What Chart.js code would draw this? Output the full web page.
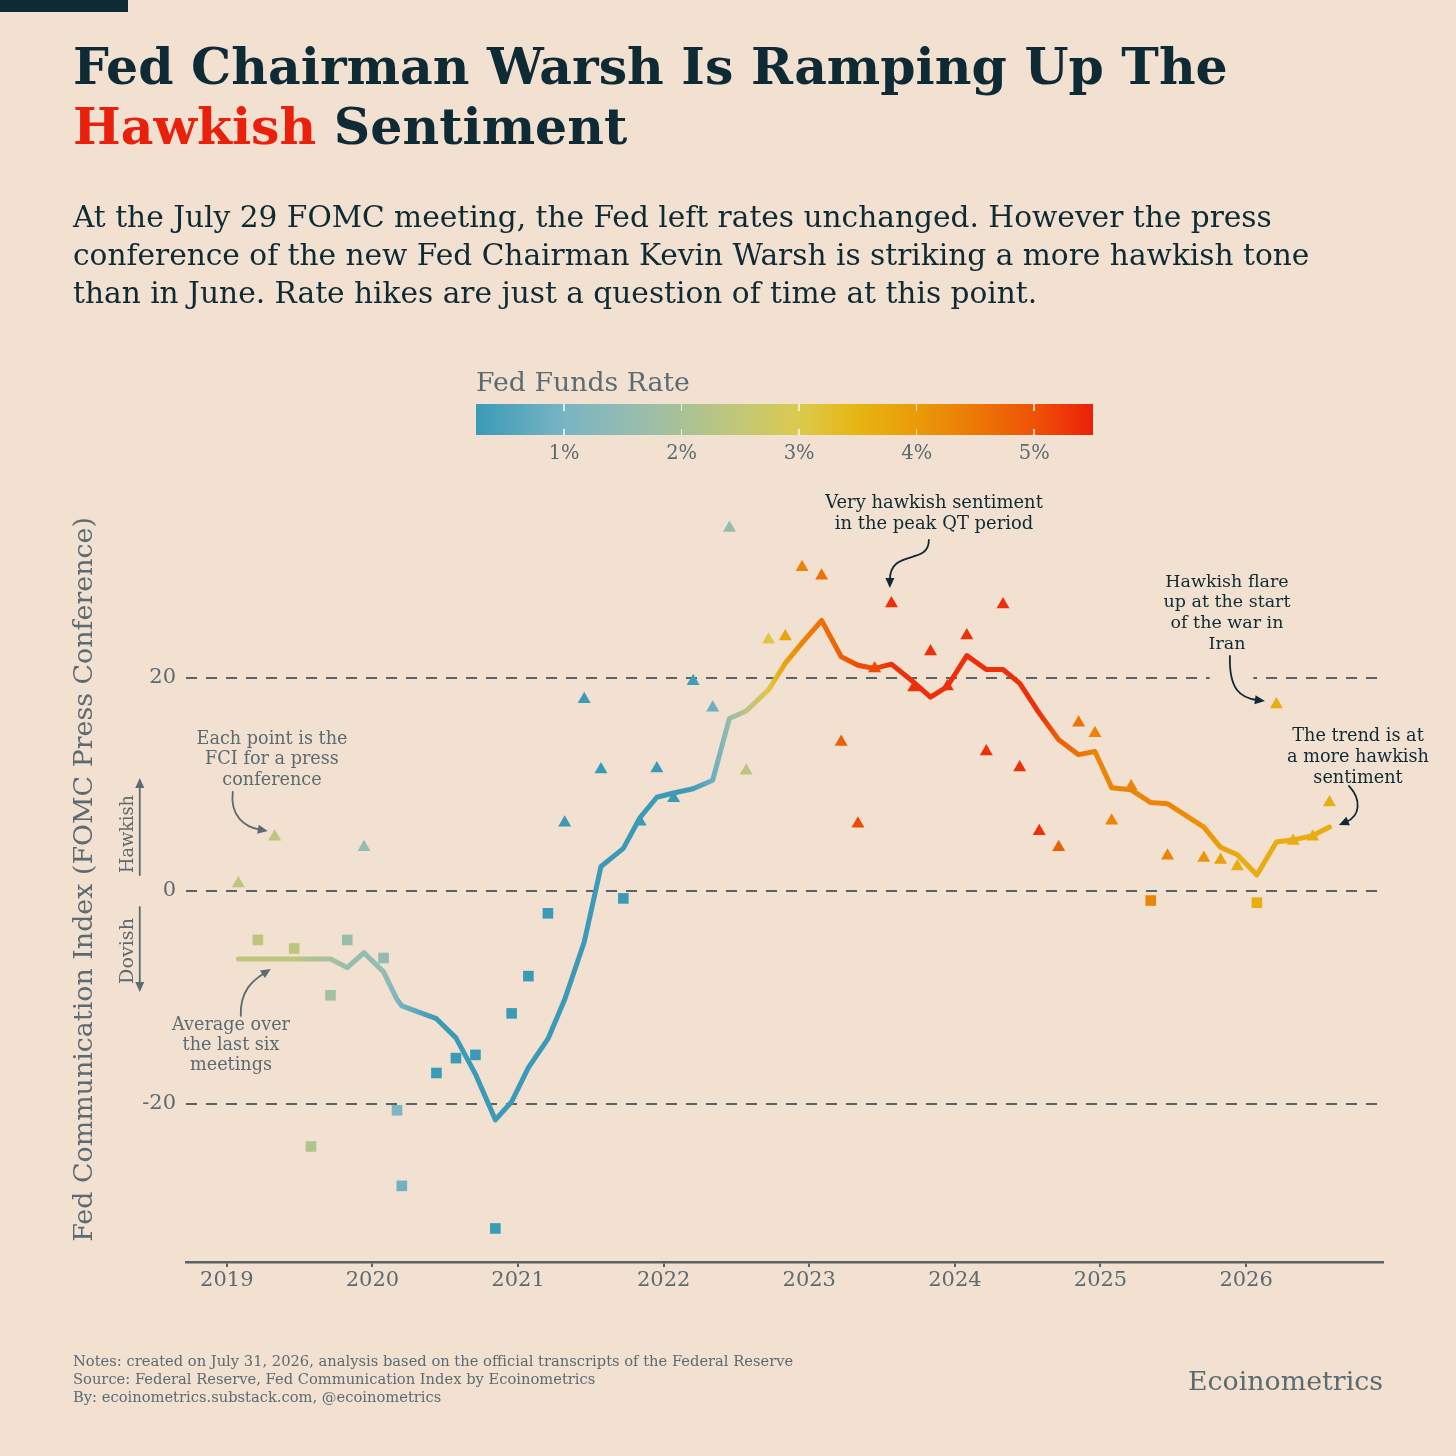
<!DOCTYPE html>
<html><head><meta charset="utf-8"><title>Fed Communication Index</title>
<script src="https://cdn.jsdelivr.net/npm/chart.js@4.4.1/dist/chart.umd.min.js"></script>
<style>
html,body{margin:0;padding:0;background:#f2e0d0;}
#page{position:relative;width:1456px;height:1456px;overflow:hidden;background:#f2e0d0;font-family:"DejaVu Serif",Georgia,serif;}
#chart{position:absolute;left:0;top:0;width:1456px;height:1456px;}
.txt{position:absolute;white-space:nowrap;}
#topbar{position:absolute;left:0;top:0;width:128px;height:12px;background:#0e2a35;}
#title{left:73px;top:37px;line-height:60px;font-weight:bold;color:#0e2a35;}
#title .hawk{color:#e8200c;}
#subtitle{left:73px;top:198px;line-height:38px;color:#0e2a35;}
#legendTitle{left:476px;top:365px;line-height:34px;color:#5b6b72;}
#colorbar{position:absolute;left:476px;top:404px;width:617px;height:31px;}
.cbtick{position:absolute;width:1.5px;background:rgba(255,255,255,0.7);}
.cblabel{position:absolute;top:441px;line-height:24px;color:#5b6b72;transform:translateX(-50%);white-space:nowrap;}
.ann{position:absolute;white-space:nowrap;text-align:center;transform:translateX(-50%);}
.navy{color:#0e2a35;} .gray{color:#5b6b72;}
.rot{position:absolute;white-space:nowrap;transform:translate(-50%,-50%) rotate(-90deg);color:#5b6b72;line-height:20px;}
#notes{left:73px;top:1352px;line-height:18px;color:#5b6b72;}
#brand{right:73px;top:1364px;line-height:34px;color:#5b6b72;}
</style></head>
<body>
<div id="page">
  <canvas id="chart" width="1456" height="1456"></canvas>
  <div id="topbar"></div>
  <div class="txt" id="title">Fed Chairman Warsh Is Ramping Up The<br><span class="hawk">Hawkish</span> Sentiment</div>
  <div class="txt" id="subtitle">At the July 29 FOMC meeting, the Fed left rates unchanged. However the press<br>conference of the new Fed Chairman Kevin Warsh is striking a more hawkish tone<br>than in June. Rate hikes are just a question of time at this point.</div>
  <div class="txt" id="legendTitle">Fed Funds Rate</div>
  <div id="colorbar"></div>
  <div id="cblabels"></div>

  <div class="ann navy" id="annQT" style="left:934px;top:490.5px;line-height:21px;">Very hawkish sentiment<br>in the peak QT period</div>
  <div class="ann navy" id="annIran" style="left:1227px;top:570.5px;line-height:20.7px;">Hawkish flare<br>up at the start<br>of the war in<br>Iran</div>
  <div class="ann navy" id="annTrend" style="left:1358px;top:724.5px;line-height:21px;">The trend is at<br>a more hawkish<br>sentiment</div>
  <div class="ann gray" id="annEach" style="left:272px;top:727.75px;line-height:20.5px;">Each point is the<br>FCI for a press<br>conference</div>
  <div class="ann gray" id="annAvg" style="left:231px;top:1014px;line-height:20px;">Average over<br>the last six<br>meetings</div>

  <div class="rot" id="lblHawk" style="left:127px;top:834px;">Hawkish</div>
  <div class="rot" id="lblDove" style="left:127px;top:951px;">Dovish</div>

  <div class="txt" id="notes">Notes: created on July 31, 2026, analysis based on the official transcripts of the Federal Reserve<br>Source: Federal Reserve, Fed Communication Index by Ecoinometrics<br>By: ecoinometrics.substack.com, @ecoinometrics</div>
  <div class="txt" id="brand">Ecoinometrics</div>
</div>

<script>
// ---------------- DATA ----------------
const meetingDates = [
  '2019-01-30','2019-03-20','2019-05-01','2019-06-19','2019-07-31','2019-09-18','2019-10-30','2019-12-11',
  '2020-01-29','2020-03-03','2020-03-15','2020-04-29','2020-06-10','2020-07-29','2020-09-16','2020-11-05','2020-12-16',
  '2021-01-27','2021-03-17','2021-04-28','2021-06-16','2021-07-28','2021-09-22','2021-11-03','2021-12-15',
  '2022-01-26','2022-03-16','2022-05-04','2022-06-15','2022-07-27','2022-09-21','2022-11-02','2022-12-14',
  '2023-02-01','2023-03-22','2023-05-03','2023-06-14','2023-07-26','2023-09-20','2023-11-01','2023-12-13',
  '2024-01-31','2024-03-20','2024-05-01','2024-06-12','2024-07-31','2024-09-18','2024-11-07','2024-12-18',
  '2025-01-29','2025-03-19','2025-05-07','2025-06-18','2025-07-30','2025-09-17','2025-10-29','2025-12-10',
  '2026-01-28','2026-03-18','2026-04-29','2026-06-17','2026-07-29'
];
// Fed Communication Index of each press conference (null = not shown)
const fciValues = [
  0.7,-4.6,5.1,-5.4,-24.0,-9.8,-4.6,4.1,
  -6.3,-20.6,-27.7,null,-17.1,-15.7,-15.4,-31.7,-11.5,
  -8.0,-2.1,6.4,18.0,11.4,-0.7,6.5,11.5,
  8.7,19.7,17.2,34.1,11.3,23.6,23.9,30.4,
  29.6,14.0,6.3,20.9,27.0,19.1,22.5,19.2,
  24.0,13.1,26.9,11.6,5.6,4.1,15.8,14.8,
  6.6,9.8,-0.9,3.3,null,3.1,2.9,2.3,
  -1.1,17.5,4.7,5.1,8.3
];
// Average over the last six meetings
const avgValues = [
  -6.4,-6.4,-6.4,-6.4,-6.4,-6.4,-7.2,-5.8,
  -7.6,-10.2,-10.8,null,-12.0,-13.8,-17.2,-21.5,-19.8,
  -16.6,-13.9,-10.2,-4.8,2.3,4.0,6.9,8.8,
  9.2,9.6,10.4,16.2,16.9,18.9,21.4,23.3,
  25.4,22.0,21.2,20.9,21.3,19.6,18.2,19.2,
  22.1,20.8,20.8,19.5,16.7,14.2,12.8,13.1,
  9.7,9.5,8.3,8.2,null,6.0,4.1,3.4,
  1.5,4.6,4.8,5.2,6.0
];
// Fed funds rate (%) at each meeting
const fedFundsRate = [
  2.40,2.41,2.38,2.38,2.13,1.90,1.63,1.55,
  1.55,1.10,0.90,0.05,0.08,0.09,0.09,0.09,0.09,
  0.08,0.08,0.08,0.08,0.08,0.08,0.08,0.08,
  0.08,0.33,0.83,1.58,2.33,3.08,3.83,4.33,
  4.58,4.83,5.08,5.08,5.33,5.33,5.33,5.33,
  5.33,5.33,5.33,5.33,5.33,4.83,4.58,4.33,
  4.33,4.33,4.33,4.33,4.33,4.08,3.87,3.64,
  3.64,3.64,3.64,3.64,3.64
];
const yearTicks = [2019,2020,2021,2022,2023,2024,2025,2026];
const yTicks = [-20,0,20];
const rateTicks = [1,2,3,4,5];
const rateTickLabels = ['1%','2%','3%','4%','5%'];
const rateStops  = [0.25,1.0,1.5,2.0,2.5,3.0,3.5,4.0,4.5,5.0,5.5];
const rateColors = ['#3a9ab7','#79b5c3','#92bbb4','#a8c298','#c3c777','#dbca4e','#e7b513','#ea9a08','#ec7806','#ee5206','#ec1f0a'];
const yAxisTitle = 'Fed Communication Index (FOMC Press Conference)';

// ---------------- STYLE ----------------
const GRAY='#5b6b72', NAVY='#0e2a35', AXIS='#56646a', BG='#f2e0d0';
const FONT='"DejaVu Serif", Georgia, serif';

function decYear(s){
  const d=new Date(s+'T00:00:00Z'); const y=d.getUTCFullYear();
  const a=Date.UTC(y,0,1), b=Date.UTC(y+1,0,1);
  return y+(d.getTime()-a)/(b-a);
}
function hexToRgb(h){const n=parseInt(h.slice(1),16);return [(n>>16)&255,(n>>8)&255,n&255];}
function rateColor(r){
  const s=rateStops,c=rateColors;
  if(r<=s[0]) return c[0];
  if(r>=s[s.length-1]) return c[c.length-1];
  let i=0; while(r>s[i+1]) i++;
  const t=(r-s[i])/(s[i+1]-s[i]); const a=hexToRgb(c[i]), b=hexToRgb(c[i+1]);
  return 'rgb('+Math.round(a[0]+(b[0]-a[0])*t)+','+Math.round(a[1]+(b[1]-a[1])*t)+','+Math.round(a[2]+(b[2]-a[2])*t)+')';
}

// ---------------- TEXT FITTING ----------------
function fitText(el,target){
  el.style.fontSize='100px';
  const w=el.offsetWidth;
  const fs=100*target/w;
  el.style.fontSize=fs+'px';
  return fs;
}
fitText(document.getElementById('title'),1155);
fitText(document.getElementById('subtitle'),1237);
fitText(document.getElementById('legendTitle'),214);
fitText(document.getElementById('notes'),721);
fitText(document.getElementById('brand'),195);
fitText(document.getElementById('annQT'),218);
fitText(document.getElementById('annIran'),127);
fitText(document.getElementById('annTrend'),142);
fitText(document.getElementById('annEach'),151);
fitText(document.getElementById('annAvg'),118);
fitText(document.getElementById('lblHawk'),78);
fitText(document.getElementById('lblDove'),66);

// ---------------- COLOR BAR ----------------
(function(){
  const bar=document.getElementById('colorbar');
  const lo=rateStops[0], hi=rateStops[rateStops.length-1];
  const stops=rateStops.map((r,i)=>rateColors[i]+' '+((r-lo)/(hi-lo)*100).toFixed(2)+'%');
  bar.style.background='linear-gradient(to right,'+stops.join(',')+')';
  const W=617, L=476;
  const labels=document.getElementById('cblabels');
  let fs=null;
  rateTicks.forEach((r,i)=>{
    const x=(r-lo)/(hi-lo)*W;
    const t1=document.createElement('div'); t1.className='cbtick';
    t1.style.left=(x-0.75)+'px'; t1.style.top='0px'; t1.style.height='7px'; bar.appendChild(t1);
    const t2=document.createElement('div'); t2.className='cbtick';
    t2.style.left=(x-0.75)+'px'; t2.style.bottom='0px'; t2.style.height='6px'; bar.appendChild(t2);
    const lb=document.createElement('div'); lb.className='cblabel';
    lb.textContent=rateTickLabels[i]; lb.style.left=(L+x)+'px';
    labels.appendChild(lb);
    if(fs===null) fs=fitText(lb,31); else lb.style.fontSize=fs+'px';
  });
})();

// ---------------- ANNOTATION ARROWS (data coordinates: year, index value) ----------------
const annotationArrows = [
  {pts:[[2023.8214,32.96],[2023.8214,30.52],[2023.5536,32.21],[2023.5536,28.45]], color:NAVY},
  {pts:[[2025.8887,22.07],[2025.8819,18.87],[2025.9643,18.12],[2026.1291,17.84]], color:NAVY},
  {pts:[[2026.7060,9.86],[2026.7953,8.54],[2026.7816,7.04],[2026.6374,6.20]], color:NAVY},
  {pts:[[2019.0412,9.30],[2019.0206,7.04],[2019.1236,6.01],[2019.2816,5.63]], color:GRAY},
  {pts:[[2019.0962,-11.74],[2019.0893,-9.30],[2019.1854,-8.36],[2019.3022,-7.32]], color:GRAY},
  {pts:[[2018.4025,1.5],[2018.4025,10.6]], color:GRAY},
  {pts:[[2018.4025,-1.5],[2018.4025,-9.5]], color:GRAY}
];
const labelGap = {x0:2025.75, x1:2026.05, y0:20.7, y1:19.3};

function toPx(chart,p){return {x:chart.scales.x.getPixelForValue(p[0]), y:chart.scales.y.getPixelForValue(p[1])};}
function drawArrow(ctx,pts,color){
  ctx.save();
  ctx.strokeStyle=color; ctx.fillStyle=color; ctx.lineWidth=1.8; ctx.lineCap='round';
  const e=pts[pts.length-1], p=pts[pts.length-2];
  const a=Math.atan2(e.y-p.y,e.x-p.x), L=10, W=4.5;
  const bx=e.x-Math.cos(a)*(L-2), by=e.y-Math.sin(a)*(L-2);
  ctx.beginPath(); ctx.moveTo(pts[0].x,pts[0].y);
  if(pts.length===4) ctx.bezierCurveTo(pts[1].x,pts[1].y,pts[2].x,pts[2].y,bx,by);
  else ctx.lineTo(bx,by);
  ctx.stroke();
  const cx=e.x-Math.cos(a)*L, cy=e.y-Math.sin(a)*L;
  ctx.beginPath();
  ctx.moveTo(e.x,e.y);
  ctx.lineTo(cx-Math.sin(a)*W, cy+Math.cos(a)*W);
  ctx.lineTo(cx+Math.sin(a)*W, cy-Math.cos(a)*W);
  ctx.closePath(); ctx.fill();
  ctx.restore();
}
const annotationPlugin = {
  id:'annotations',
  beforeDatasetsDraw(chart){
    const ctx=chart.ctx;
    const a=toPx(chart,[labelGap.x0,labelGap.y0]), b=toPx(chart,[labelGap.x1,labelGap.y1]);
    ctx.save(); ctx.fillStyle=BG; ctx.fillRect(a.x,a.y,b.x-a.x,b.y-a.y); ctx.restore();
  },
  afterDatasetsDraw(chart){
    annotationArrows.forEach(ar=>drawArrow(chart.ctx, ar.pts.map(p=>toPx(chart,p)), ar.color));
  }
};

// ---------------- CHART ----------------
const mctx=document.createElement('canvas').getContext('2d');
mctx.font='100px "DejaVu Serif"';
const yTitleSize=100*725/mctx.measureText(yAxisTitle).width;

const xVals=meetingDates.map(decYear);
const lineData=meetingDates.map((d,i)=>({x:xVals[i], y:avgValues[i]}));
const pointData=meetingDates.map((d,i)=>({x:xVals[i], y:fciValues[i]}));

new Chart(document.getElementById('chart'),{
  type:'scatter',
  data:{datasets:[
    {
      type:'line', label:'Average over the last six meetings', data:lineData, order:0,
      spanGaps:true, tension:0, pointRadius:0, pointHoverRadius:0, borderWidth:5,
      borderJoinStyle:'round', borderCapStyle:'round',
      borderColor:function(c){
        const chart=c.chart, area=chart.chartArea;
        if(!area || !chart.scales.x) return rateColor(fedFundsRate[0]);
        const g=chart.ctx.createLinearGradient(area.left,0,area.right,0);
        xVals.forEach((x,i)=>{
          if(avgValues[i]===null) return;
          const f=(chart.scales.x.getPixelForValue(x)-area.left)/(area.right-area.left);
          g.addColorStop(Math.min(1,Math.max(0,f)), rateColor(fedFundsRate[i]));
        });
        return g;
      }
    },
    {
      type:'scatter', label:'FCI per press conference', data:pointData, order:1,
      pointRadius:7.5, pointHoverRadius:7.5, borderWidth:0, pointBorderWidth:0,
      pointStyle:c=> (fciValues[c.dataIndex]!==null && fciValues[c.dataIndex]>=0) ? 'triangle' : 'rect',
      pointBackgroundColor:c=>rateColor(fedFundsRate[c.dataIndex]),
      backgroundColor:c=>rateColor(fedFundsRate[c.dataIndex])
    }
  ]},
  options:{
    responsive:false, animation:false, events:[],
    layout:{padding:{left:66,right:73,top:497,bottom:134}},
    plugins:{legend:{display:false}, tooltip:{enabled:false}},
    scales:{
      x:{
        type:'linear', min:2018.72, max:2026.94,
        afterBuildTicks:s=>{s.ticks=yearTicks.map(v=>({value:v}));},
        afterFit:s=>{s.height=60;},
        grid:{drawOnChartArea:false, drawTicks:true, tickLength:5, color:AXIS, lineWidth:2},
        border:{display:true, color:AXIS, width:2.5},
        ticks:{font:{family:FONT,size:21}, color:GRAY, padding:1, maxRotation:0, autoSkip:false, callback:v=>String(v)}
      },
      y:{
        type:'linear', min:-34.85, max:37,
        afterBuildTicks:s=>{s.ticks=yTicks.map(v=>({value:v}));},
        afterFit:s=>{s.width=120;},
        grid:{color:AXIS, lineWidth:2, drawTicks:false},
        border:{display:false, dash:[11,9]},
        ticks:{font:{family:FONT,size:21}, color:GRAY, padding:10, callback:v=>String(v)},
        title:{display:true, text:yAxisTitle, color:GRAY, font:{family:FONT,size:yTitleSize}, padding:{top:3,bottom:0}}
      }
    }
  },
  plugins:[annotationPlugin]
});
</script>
</body></html>
